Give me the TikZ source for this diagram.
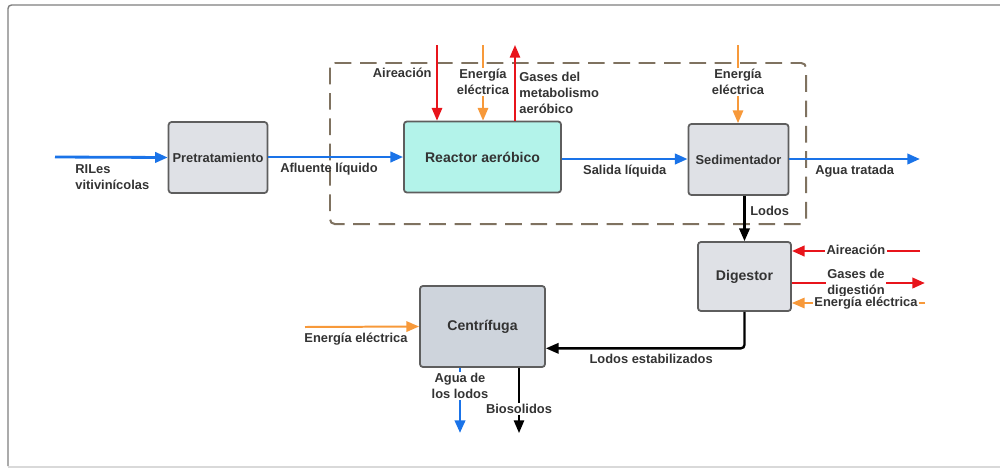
\documentclass[tikz,border=0pt]{standalone}
\usepackage{fontspec}
\setmainfont{Liberation Sans}
\usetikzlibrary{arrows.meta,positioning}

\definecolor{flowblue}{HTML}{1A73E8}
\definecolor{gasred}{HTML}{E8141B}
\definecolor{powerorange}{HTML}{F7993A}
\definecolor{boxgray}{HTML}{DFE1E6}
\definecolor{reactorteal}{HTML}{B3F3EA}
\definecolor{centgray}{HTML}{CED4DC}
\definecolor{edgegray}{HTML}{5E5E5E}
\definecolor{txtgray}{HTML}{333333}
\definecolor{limitbrown}{HTML}{7F7260}

\begin{document}
\begin{tikzpicture}[
  x=0.03cm, y=-0.03cm,
  font=\bfseries\fontsize{11}{13.5}\selectfont, text=txtgray,
  unit/.style={draw=edgegray, line width=1.5pt, rounded corners=2.5pt, align=center},
  lbl/.style={inner sep=1pt, align=center},
  lblw/.style={lbl, fill=white},
  tip/.style={-{Triangle[length=3.8mm,width=3.1mm]}},
  water/.style={tip, draw=flowblue, line width=2.4pt},
  gas/.style={tip, draw=gasred, line width=1.5pt},
  gasthick/.style={tip, draw=gasred, line width=2.4pt},
  power/.style={tip, draw=powerorange, line width=1.7pt},
  sludge/.style={tip, draw=black, line width=2pt}
]
  \useasboundingbox (0,0) rectangle (1000,468);
  % frame
  \draw[edgegray!80, line width=1.2pt, rounded corners=3pt] (1002,5) -- (8,5) -- (8,466);
  \draw[gray!30, line width=1pt] (8,467) -- (1002,467);

  % system limit
  \draw[limitbrown, line width=1.7pt, dash pattern=on 0.5cm off 0.26cm, rounded corners=4pt]
    (330,63) rectangle (806,224);

  % process units
  \node[unit, fill=boxgray, minimum width=2.94cm, minimum height=2.13cm] (pre) at (218,157.5) {Pretratamiento};
  \node[unit, fill=reactorteal, minimum width=4.71cm, minimum height=2.13cm,
        font=\bfseries\fontsize{12}{14}\selectfont] (reactor) at (482.5,157) {Reactor aeróbico};
  \node[unit, fill=boxgray, minimum width=3.0cm, minimum height=2.13cm] (sed) at (738.5,159.5) {Sedimentador};
  \node[unit, fill=boxgray, minimum width=2.79cm, minimum height=2.07cm,
        font=\bfseries\fontsize{12}{14}\selectfont] (dig) at (744.5,276.5) {Digestor};
  \node[unit, fill=centgray, minimum width=3.75cm, minimum height=2.43cm,
        font=\bfseries\fontsize{12}{14}\selectfont] (cent) at (482.5,326.5) {Centrífuga};

  % free ends
  \coordinate (rilIn) at (55,157);
  \coordinate (aguaOut) at (920,159);
  \coordinate (airR) at (437,45);
  \coordinate (powR) at (483,45);
  \coordinate (gasR) at (515,45);
  \coordinate (powS) at (738,45);
  \coordinate (airD) at (920,251);
  \coordinate (gasD) at (925,283);
  \coordinate (powD) at (925,303);
  \coordinate (powC) at (305,327);
  \coordinate (lodoAgua) at (460,433);
  \coordinate (bioOut) at (519,433);

  % water line
  \draw[water] (rilIn) -- (pre.west);
  \node[lbl, anchor=north west, align=left] (rilLbl) at (74,163) {RILes\\vitivinícolas};
  \draw[water] (pre.east |- rilIn) -- (reactor.west |- rilIn)
    node[lbl, pos=0.45, below=3pt] (aflLbl) {Afluente líquido};
  \draw[water] (reactor.east |- aguaOut) -- (sed.west |- aguaOut)
    node[lbl, midway, below=3pt] (salLbl) {Salida líquida};
  \draw[water] (sed.east |- aguaOut) -- (aguaOut)
    node[lbl, pos=0.5, below=3pt] (aguaLbl) {Agua tratada};

  % reactor inputs and outputs
  \draw[gas] (airR) -- (airR |- reactor.north);
  \node[lbl, anchor=east] (airRLbl) at (433,73) {Aireación};
  \draw[power] (powR) -- (powR |- reactor.north);
  \node[lblw] (powRLbl) at (483,82) {Energía\\eléctrica};
  \draw[gas] (gasR |- reactor.north) -- (gasR);
  \node[lbl, anchor=west, align=left] (gasRLbl) at (518,93) {Gases del\\metabolismo\\aeróbico};

  % settler
  \draw[power] (powS) -- (powS |- sed.north);
  \node[lblw] (powSLbl) at (738,82) {Energía\\eléctrica};
  \draw[sludge] (sed.south -| dig.north) -- (dig.north)
    node[lbl, pos=0.33, right=3pt] (lodLbl) {Lodos};

  % digester
  \draw[gasthick] (airD) -- (airD -| dig.east);
  \node[lblw] (airDLbl) at (856,250) {Aireación};
  \draw[gasthick] (gasD -| dig.east) -- (gasD);
  \node[lblw] (gasDLbl) at (856,283) {Gases de\\digestión};
  \draw[power] (powD) -- (powD -| dig.east);
  \node[lblw] (powDLbl) at (866,303) {Energía eléctrica};
  \draw[sludge, rounded corners=3pt] (dig.south) |- (cent.-19)
    node[lbl, pos=0.735, below=3pt] (estLbl) {Lodos estabilizados};

  % centrifuge
  \draw[power] (powC) -- (cent.west);
  \node[lbl, anchor=north] (powCLbl) at (356,332) {Energía eléctrica};
  \draw[water] (lodoAgua |- cent.south) -- (lodoAgua);
  \node[lblw] (lodoLbl) at (460,386) {Agua de\\los lodos};
  \draw[sludge, line width=1.4pt] (bioOut |- cent.south) -- (bioOut);
  \node[lblw] (bioLbl) at (519,409) {Biosolidos};
\end{tikzpicture}
\end{document}
